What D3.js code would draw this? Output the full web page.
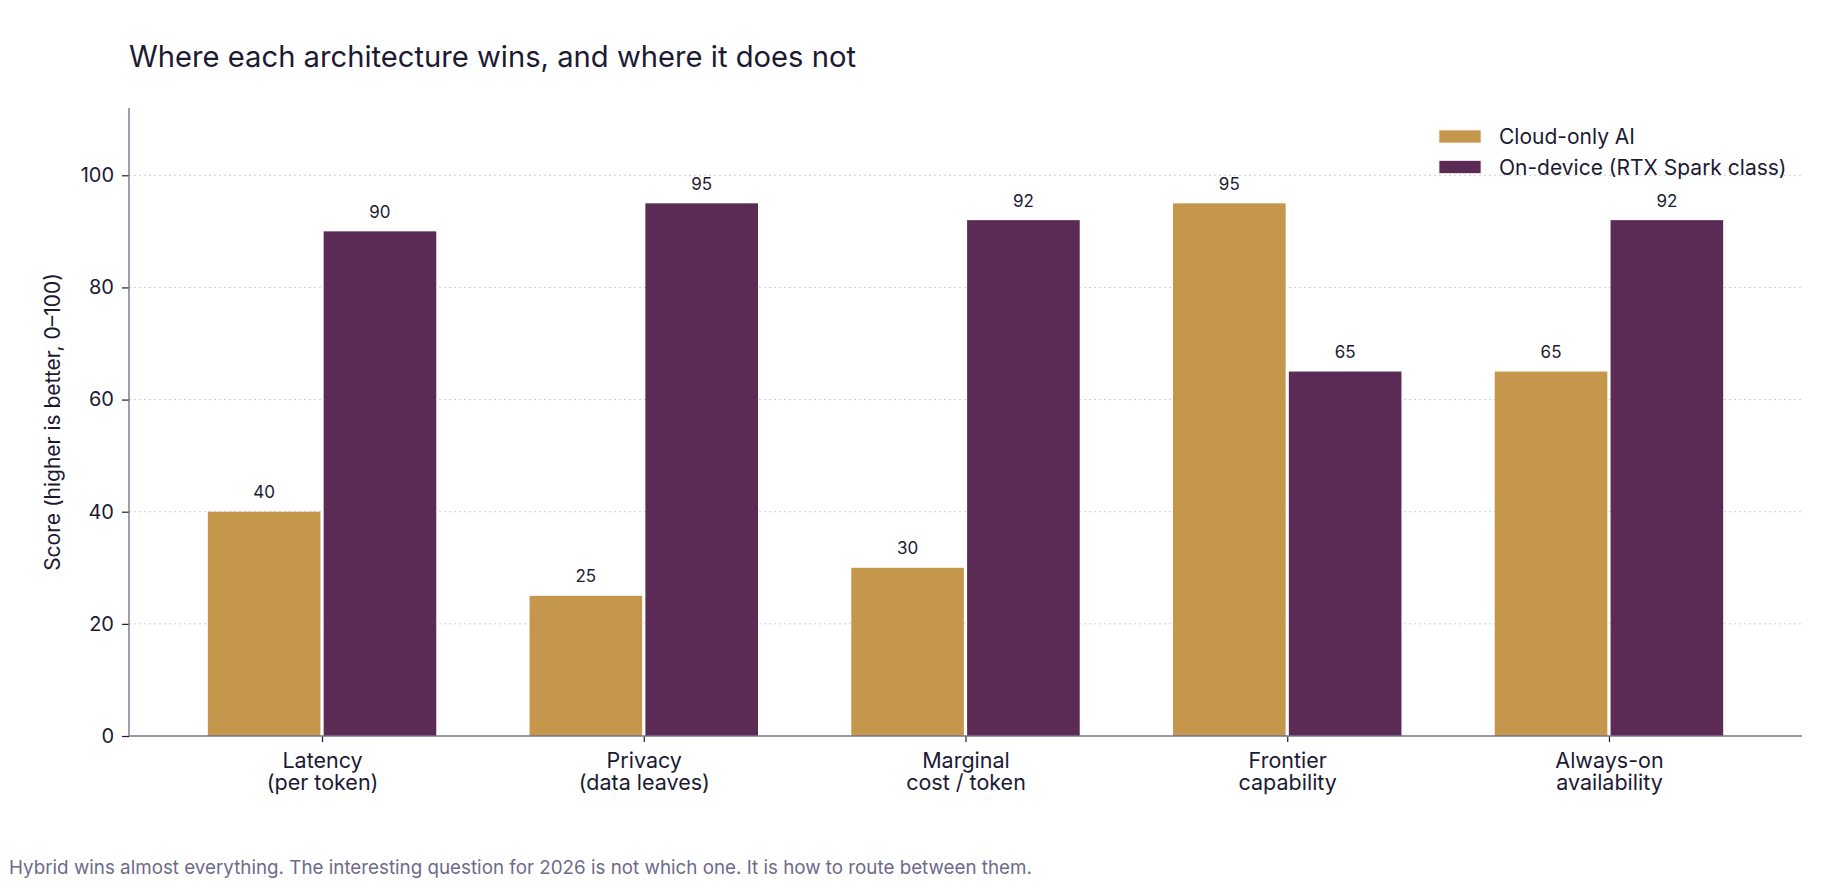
<!DOCTYPE html>
<html>
<head>
<meta charset="utf-8">
<script src="https://cdn.jsdelivr.net/npm/d3@7"></script>
<style>
    body { margin: 0; background: #ffffff; }
    svg { display: block; font-family: Inter, "Liberation Sans", Arial, sans-serif; }
</style>
</head>
<body>
<div id="chart"></div>
<script>
const categories = [
    ["Latency", "(per token)"],
    ["Privacy", "(data leaves)"],
    ["Marginal", "cost / token"],
    ["Frontier", "capability"],
    ["Always-on", "availability"]
];
const seriesNames = ["Cloud-only AI", "On-device (RTX Spark class)"];
const cloudScores = [40, 25, 30, 95, 65];
const deviceScores = [90, 95, 92, 65, 92];
const yTicks = [0, 20, 40, 60, 80, 100];

const titleText = "Where each architecture wins, and where it does not";
const yLabelText = "Score (higher is better, 0\u2013100)";
const footerText = "Hybrid wins almost everything. The interesting question for 2026 is not which one. It is how to route between them.";

const colors = ["#c4974d", "#5b2a55"];
const textColor = "#1c1a33";
const axisColor = "#77738e";

const size = { width: 1840, height: 896 };
const margin = { top: 108, right: 38, bottom: 160, left: 129 };
const width = size.width - margin.left - margin.right;
const height = size.height - margin.top - margin.bottom;

const svg = d3.select("#chart").append("svg")
    .attr("width", size.width)
    .attr("height", size.height);

svg.append("text")
    .attr("x", 129)
    .attr("y", 66.5)
    .attr("fill", textColor)
    .style("font-size", "29.2px")
    .text(titleText);

const svgG = svg.append("g")
    .attr("transform", "translate(" + margin.left + "," + margin.top + ")");

const xScale = d3.scaleLinear().domain([-0.6, 4.6]).range([0, width]);
const yScale = d3.scaleLinear().domain([0, 112]).range([height, 0]);

// grid
svgG.append("g")
    .selectAll("line")
    .data(yTicks.filter(d => d > 0))
    .join("line")
    .attr("x1", 0)
    .attr("x2", width)
    .attr("y1", d => yScale(d))
    .attr("y2", d => yScale(d))
    .attr("stroke", "#cfcfd4")
    .attr("stroke-width", 1)
    .attr("stroke-dasharray", "2,3");

// bars
const barWidth = 0.35;
const offsets = [-0.18, 0.18];
const series = [cloudScores, deviceScores];

series.forEach((values, s) => {
    const g = svgG.append("g").attr("class", "series" + s);
    g.selectAll("rect")
        .data(values)
        .join("rect")
        .attr("x", (d, i) => xScale(i + offsets[s] - barWidth / 2))
        .attr("width", xScale(barWidth) - xScale(0))
        .attr("y", d => yScale(d))
        .attr("height", d => yScale(0) - yScale(d))
        .attr("fill", colors[s]);

    g.selectAll("text")
        .data(values)
        .join("text")
        .attr("x", (d, i) => xScale(i + offsets[s]))
        .attr("y", d => yScale(d) - 13.5)
        .attr("text-anchor", "middle")
        .attr("fill", textColor)
        .style("font-size", "17px")
        .text(d => d);
});

// y axis
const yAxisG = svgG.append("g")
    .call(d3.axisLeft(yScale).tickValues(yTicks).tickSize(7).tickPadding(8));
yAxisG.select(".domain").remove();
yAxisG.selectAll(".tick line").attr("stroke", textColor).attr("stroke-width", 1.2);
yAxisG.selectAll(".tick text")
    .attr("fill", textColor)
    .style("font-family", "Inter, 'Liberation Sans', Arial, sans-serif")
    .style("font-size", "20px");

// x axis
const xAxisG = svgG.append("g")
    .attr("transform", "translate(0," + height + ")")
    .call(d3.axisBottom(xScale).tickValues(d3.range(categories.length)).tickSize(6).tickFormat(""));
xAxisG.select(".domain").remove();
xAxisG.selectAll(".tick line").attr("stroke", textColor).attr("stroke-width", 1.2);
xAxisG.selectAll(".tick").append("text")
    .attr("fill", textColor)
    .attr("text-anchor", "middle")
    .style("font-family", "Inter, 'Liberation Sans', Arial, sans-serif")
    .style("font-size", "21.5px")
    .selectAll("tspan")
    .data(i => categories[i])
    .join("tspan")
    .attr("x", 0)
    .attr("y", (d, j) => 32 + j * 22)
    .text(d => d);

// spines
svgG.append("line")
    .attr("x1", 0).attr("x2", 0)
    .attr("y1", 0).attr("y2", height)
    .attr("stroke", axisColor)
    .attr("stroke-width", 1.4);
svgG.append("line")
    .attr("x1", 0).attr("x2", width)
    .attr("y1", height).attr("y2", height)
    .attr("stroke", axisColor)
    .attr("stroke-width", 1.4);

// y label
svgG.append("text")
    .attr("transform", "rotate(-90)")
    .attr("x", -height / 2)
    .attr("y", -69)
    .attr("text-anchor", "middle")
    .attr("fill", textColor)
    .style("font-size", "21px")
    .text(yLabelText);

// legend
const legendG = svg.append("g")
    .attr("transform", "translate(1439,130)");
const legendItems = legendG.selectAll("g")
    .data(seriesNames)
    .join("g")
    .attr("transform", (d, i) => "translate(0," + i * 30.5 + ")");
legendItems.append("rect")
    .attr("width", 42)
    .attr("height", 13)
    .attr("fill", (d, i) => colors[i])
    .attr("stroke", "#f3eef0")
    .attr("stroke-width", 0.8);
legendItems.append("text")
    .attr("x", 60)
    .attr("y", 14)
    .attr("fill", textColor)
    .style("font-size", "21px")
    .text(d => d);

// footer
svg.append("text")
    .attr("x", 9)
    .attr("y", 874)
    .attr("fill", "#6e6a8a")
    .style("font-size", "18.8px")
    .text(footerText);
</script>
</body>
</html>
